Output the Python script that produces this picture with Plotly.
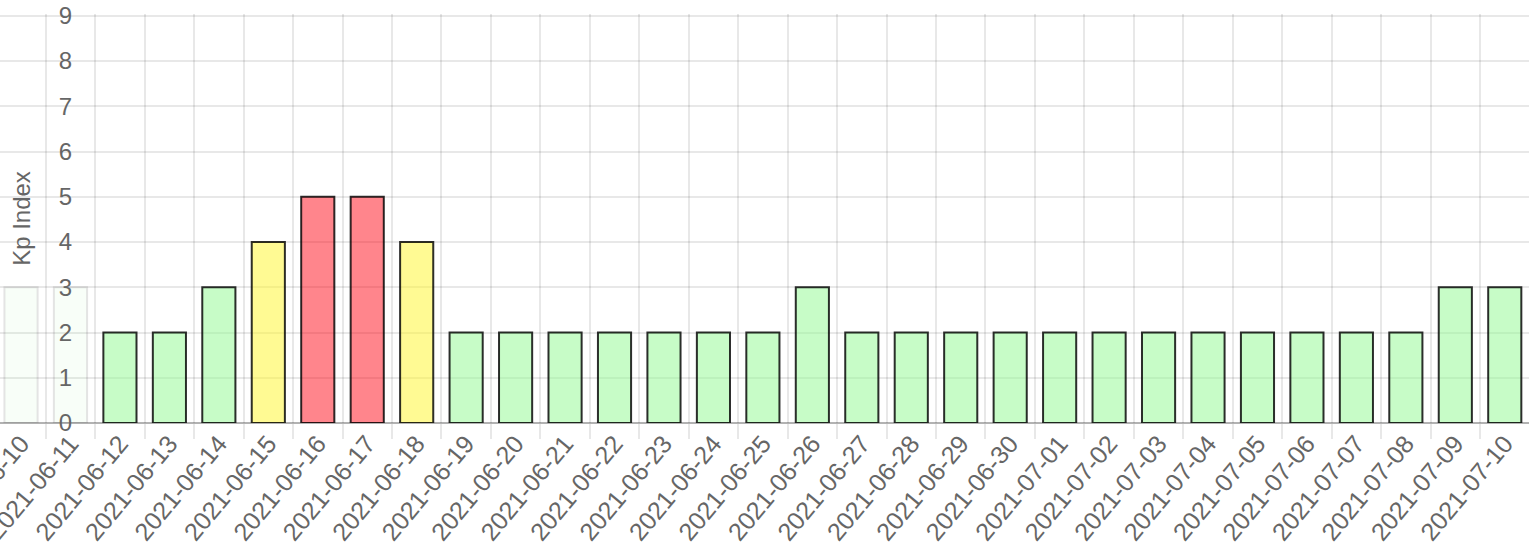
import plotly.graph_objects as go

dates = ["2021-06-10", "2021-06-11", "2021-06-12", "2021-06-13", "2021-06-14",
         "2021-06-15", "2021-06-16", "2021-06-17", "2021-06-18", "2021-06-19",
         "2021-06-20", "2021-06-21", "2021-06-22", "2021-06-23", "2021-06-24",
         "2021-06-25", "2021-06-26", "2021-06-27", "2021-06-28", "2021-06-29",
         "2021-06-30", "2021-07-01", "2021-07-02", "2021-07-03", "2021-07-04",
         "2021-07-05", "2021-07-06", "2021-07-07", "2021-07-08", "2021-07-09",
         "2021-07-10"]
kp_values = [3, 3, 2, 2, 3, 4, 5, 5, 4, 2,
             2, 2, 2, 2, 2, 2, 3, 2, 2, 2,
             2, 2, 2, 2, 2, 2, 2, 2, 2, 3,
             3]
y_ticks = [0, 1, 2, 3, 4, 5, 6, 7, 8, 9]

GREEN = "rgba(144,250,144,0.5)"
YELLOW = "rgba(255,245,40,0.5)"
RED = "rgba(255,0,15,0.48)"


def color_for(v):
    if v >= 5:
        return RED
    if v >= 4:
        return YELLOW
    return GREEN


# first two categories are scrolled under the (semi-opaque) y-axis panel
hidden = 2
opac = [0.12 if i < hidden else 1.0 for i in range(len(dates))]

W, H = 1532, 554
ML, MR, MT, MB = 0, 3, 14, 131
plot_w = W - ML - MR
axis_px = 97  # pixel where the visible scroll area starts
FONT = "Helvetica Neue, Helvetica, Arial, Liberation Sans, sans-serif"
TXT = "#666666"
GRID = "rgba(0,0,0,0.09)"

fig = go.Figure()
fig.add_trace(go.Bar(
    x=dates,
    y=kp_values,
    marker=dict(
        color=[color_for(v) for v in kp_values],
        line=dict(color="rgba(0,0,0,0.82)", width=2),
        opacity=opac,
    ),
    hoverinfo="x+y",
))

fig.add_shape(
    type="rect", xref="paper", yref="paper",
    x0=0, x1=(axis_px - 1) / plot_w, y0=0, y1=1,
    fillcolor="rgba(255,255,255,0.88)", line=dict(width=0),
    layer="between",
)

fig.update_layout(
    width=W, height=H,
    margin=dict(l=ML, r=MR, t=MT, b=MB, autoexpand=False),
    paper_bgcolor="white", plot_bgcolor="white",
    showlegend=False,
    bargap=0.33,
    font=dict(family=FONT, size=24, color=TXT),
    xaxis=dict(
        type="category",
        range=[-0.425, len(dates) - 0.51],
        automargin=False,
        tickson="boundaries",
        showgrid=True, gridcolor=GRID, gridwidth=2,
        ticks="outside", ticklen=15, tickwidth=2, tickcolor=GRID,
        tickangle=-50,
        tickfont=dict(family=FONT, size=25, color=TXT),
        showline=False, zeroline=False,
    ),
    yaxis=dict(
        range=[0, 9.04],
        tickvals=y_ticks,
        automargin=False,
        anchor="free",
        position=axis_px / plot_w,
        side="left",
        showgrid=True, gridcolor=GRID, gridwidth=2,
        zeroline=True, zerolinecolor="rgba(0,0,0,0.3)", zerolinewidth=2,
        ticks="outside", ticklen=20, tickcolor="rgba(0,0,0,0)",
        tickfont=dict(family=FONT, size=24, color=TXT),
        title=dict(text="Kp Index", font=dict(family=FONT, size=24, color=TXT), standoff=20),
        showline=False,
    ),
)

fig.write_html(
    "out.html",
    config={"displayModeBar": False},
    post_script="document.body.style.margin='0';",
)
